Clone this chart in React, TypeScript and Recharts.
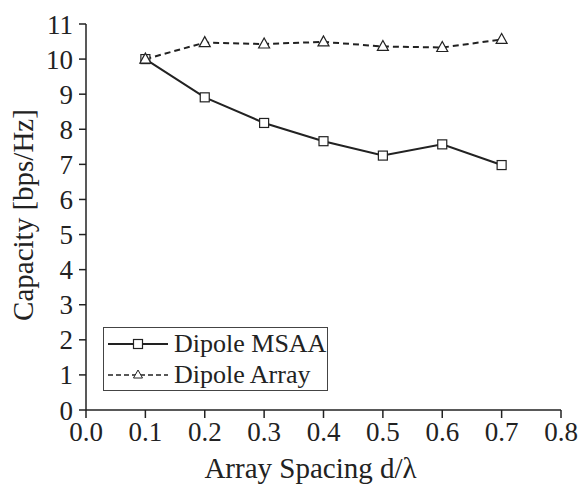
import { LineChart, Line, XAxis, YAxis, Legend } from 'recharts';

const spacing = [0.1, 0.2, 0.3, 0.4, 0.5, 0.6, 0.7];
const msaaCapacity = [10.0, 8.91, 8.18, 7.66, 7.25, 7.57, 6.98];
const arrayCapacity = [10.0, 10.47, 10.43, 10.49, 10.36, 10.33, 10.56];
const xTicks = [0, 0.1, 0.2, 0.3, 0.4, 0.5, 0.6, 0.7, 0.8];
const yTicks = [0, 1, 2, 3, 4, 5, 6, 7, 8, 9, 10, 11];

const seriesNames = { msaa: 'Dipole MSAA', array: 'Dipole Array' };

const data = spacing.map((x, i) => ({
  x,
  msaa: msaaCapacity[i],
  array: arrayCapacity[i],
}));

const font = '"Liberation Serif", "Times New Roman", serif';
const ink = '#222';

const SquareDot = (props: any) => {
  const { cx, cy } = props;
  if (cx == null || cy == null) return null;
  return <rect x={cx - 4.5} y={cy - 4.5} width={9} height={9} fill="#fff" stroke={ink} strokeWidth={1.2} />;
};

const TriangleDot = (props: any) => {
  const { cx, cy } = props;
  if (cx == null || cy == null) return null;
  const pts = `${cx},${cy - 6} ${cx - 5.5},${cy + 4} ${cx + 5.5},${cy + 4}`;
  return <polygon points={pts} fill="#fff" stroke={ink} strokeWidth={1.2} />;
};

const LegendBox = () => (
  <div
    style={{
      border: '1.5px solid #444',
      background: '#fff',
      fontFamily: font,
      fontSize: 26,
      color: ink,
      padding: '0 1px 0 3px',
      lineHeight: '31px',
    }}
  >
    <div style={{ display: 'flex', alignItems: 'center' }}>
      <svg width={64} height={31}>
        <line x1={1} y1={16} x2={61} y2={16} stroke={ink} strokeWidth={2} />
        <rect x={26.5} y={11.5} width={9} height={9} fill="#fff" stroke={ink} strokeWidth={1.2} />
      </svg>
      <span style={{ marginLeft: 3 }}>{seriesNames.msaa}</span>
    </div>
    <div style={{ display: 'flex', alignItems: 'center' }}>
      <svg width={64} height={31}>
        <line x1={1} y1={16} x2={61} y2={16} stroke={ink} strokeWidth={1.6} strokeDasharray="5 3" />
        <polygon points="31,11 26.5,19 35.5,19" fill="#fff" stroke={ink} strokeWidth={1} />
      </svg>
      <span style={{ marginLeft: 3 }}>{seriesNames.array}</span>
    </div>
  </div>
);

const YLabel = ({ viewBox }: any) => {
  const cx = viewBox.x + 23;
  const cy = viewBox.y + viewBox.height / 2 - 2;
  return (
    <text
      x={cx}
      y={cy}
      transform={`rotate(-90 ${cx} ${cy})`}
      textAnchor="middle"
      dominantBaseline="central"
      fontFamily={font}
      fontSize={29}
      fill={ink}
    >
      Capacity [bps/Hz]
    </text>
  );
};

const XLabel = ({ viewBox }: any) => (
  <text
    x={viewBox.x + viewBox.width / 2 - 13}
    y={viewBox.y + 68}
    textAnchor="middle"
    fontFamily={font}
    fontSize={29}
    fill={ink}
  >
    Array Spacing d/λ
  </text>
);

const tickStyle = { fontFamily: font, fontSize: 27, fill: ink };
const axisLine = { stroke: ink, strokeWidth: 1.5 };

export default function App() {
  return (
    <div style={{ position: 'absolute', left: 0, top: 0, background: '#fff' }}>
      <LineChart width={581} height={485} data={data} margin={{ top: 24, right: 20, bottom: 0, left: 0 }}>
        <XAxis
          dataKey="x"
          type="number"
          domain={[0, 0.8]}
          ticks={xTicks}
          interval={0}
          tickFormatter={(v: number) => v.toFixed(1)}
          height={75}
          tickSize={8}
          tickMargin={4}
          tick={tickStyle}
          axisLine={axisLine}
          tickLine={axisLine}
          label={<XLabel />}
        />
        <XAxis
          xAxisId="top"
          dataKey="x"
          type="number"
          orientation="top"
          domain={[0, 0.8]}
          ticks={xTicks}
          interval={0}
          height={0}
          mirror
          tick={false}
          tickSize={6}
          axisLine={axisLine}
          tickLine={axisLine}
        />
        <YAxis
          domain={[0, 11]}
          ticks={yTicks}
          interval={0}
          width={86}
          tickSize={7}
          tickMargin={6}
          tick={tickStyle}
          axisLine={axisLine}
          tickLine={axisLine}
          label={<YLabel />}
        />
        <YAxis
          yAxisId="right"
          orientation="right"
          domain={[0, 11]}
          ticks={yTicks}
          interval={0}
          width={0}
          mirror
          tick={false}
          tickSize={8}
          axisLine={axisLine}
          tickLine={axisLine}
        />
        <Legend
          verticalAlign="middle"
          content={<LegendBox />}
          wrapperStyle={{ position: 'absolute', left: 103, top: 327, width: 'auto', height: 'auto' }}
        />
        <Line
          dataKey="msaa"
          name={seriesNames.msaa}
          stroke={ink}
          strokeWidth={2}
          dot={<SquareDot />}
          activeDot={false}
          isAnimationActive={false}
        />
        <Line
          dataKey="array"
          name={seriesNames.array}
          stroke={ink}
          strokeWidth={2}
          strokeDasharray="6 4"
          dot={<TriangleDot />}
          activeDot={false}
          isAnimationActive={false}
        />
      </LineChart>
    </div>
  );
}
